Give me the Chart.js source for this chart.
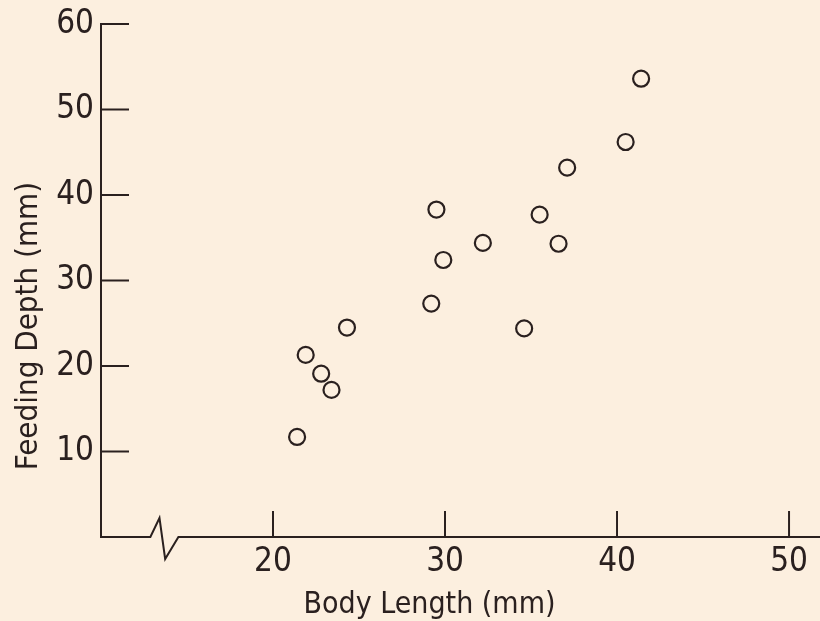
<!DOCTYPE html>
<html>
<head>
<meta charset="utf-8">
<script src="https://cdn.jsdelivr.net/npm/chart.js@4.4.1/dist/chart.umd.min.js"></script>
<style>
  html, body { margin: 0; padding: 0; background: #fcefdf; }
  #wrap { width: 820px; height: 621px; position: relative; }
</style>
</head>
<body>
<div id="wrap"><canvas id="chart"></canvas></div>
<script>
// Body length vs feeding depth.
const bodyLength = [21.4, 21.9, 22.8, 23.4, 24.3, 29.2, 29.5, 29.9, 32.2, 34.6, 35.5, 36.6, 37.1, 40.5, 41.4];
const feedingDepth = [11.7, 21.3, 19.1, 17.2, 24.5, 27.3, 38.3, 32.4, 34.4, 24.4, 37.7, 34.3, 43.2, 46.2, 53.6];
const xTicks = [20, 30, 40, 50];
const yTicks = [10, 20, 30, 40, 50, 60];
const xTitle = "Body Length (mm)";
const yTitle = "Feeding Depth (mm)";

const ink = "#2a201f";
const fontFamily = "'DejaVu Sans Condensed', 'Liberation Sans Narrow', 'DejaVu Sans', sans-serif";
const labelFont = { family: fontFamily, size: 33, lineHeight: 1 };

// tick marks point into the plot, the x axis has a break near its left end,
// and the axis titles sit off-centre like in the original drawing
const axisMarks = {
  id: "axisMarks",
  afterDraw(chart) {
    const { ctx, chartArea, scales: { x, y } } = chart;
    const y0 = y.getPixelForValue(0);
    ctx.save();
    ctx.strokeStyle = ink;
    ctx.lineWidth = 2;
    ctx.lineCap = "butt";
    yTicks.forEach(v => {
      const py = y.getPixelForValue(v);
      ctx.beginPath();
      ctx.moveTo(chartArea.left, py);
      ctx.lineTo(chartArea.left + 28, py);
      ctx.stroke();
    });
    xTicks.forEach(v => {
      const px = x.getPixelForValue(v);
      ctx.beginPath();
      ctx.moveTo(px, y0);
      ctx.lineTo(px, y0 - 26);
      ctx.stroke();
    });
    ctx.lineJoin = "miter";
    ctx.beginPath();
    ctx.moveTo(chartArea.left, y0);
    ctx.lineTo(x.getPixelForValue(12.87), y0);
    ctx.lineTo(x.getPixelForValue(13.4), y0 - 19);
    ctx.lineTo(x.getPixelForValue(13.73), y0 + 22);
    ctx.lineTo(x.getPixelForValue(14.5), y0);
    ctx.lineTo(chart.width, y0);
    ctx.stroke();

    ctx.fillStyle = ink;
    ctx.textAlign = "center";
    ctx.textBaseline = "alphabetic";
    ctx.font = "30px " + fontFamily;
    ctx.fillText(xTitle, 429.5, 613);
    ctx.font = "31px " + fontFamily;
    ctx.translate(37, 326);
    ctx.rotate(-Math.PI / 2);
    ctx.fillText(yTitle, 0, 0);
    ctx.restore();
  }
};

new Chart(document.getElementById("chart"), {
  type: "scatter",
  data: {
    datasets: [{
      data: bodyLength.map((v, i) => ({ x: v, y: feedingDepth[i] })),
      pointStyle: "circle",
      pointRadius: 8,
      pointHoverRadius: 8,
      borderWidth: 2.2,
      borderColor: ink,
      backgroundColor: "rgba(0,0,0,0)"
    }]
  },
  options: {
    responsive: true,
    maintainAspectRatio: false,
    animation: false,
    layout: { autoPadding: false, padding: { top: 24, right: 0, left: 0, bottom: 0 } },
    plugins: { legend: { display: false }, tooltip: { enabled: false } },
    scales: {
      x: {
        type: "linear",
        min: 10,
        max: 51.8,
        afterBuildTicks: s => { s.ticks = xTicks.map(v => ({ value: v })); },
        afterFit: s => { s.height = 84; },
        grid: { display: false, drawTicks: false },
        border: { display: false },
        ticks: { color: ink, padding: 9, maxRotation: 0, font: labelFont },
        title: { display: false }
      },
      y: {
        type: "linear",
        min: 0,
        max: 60,
        afterBuildTicks: s => { s.ticks = yTicks.map(v => ({ value: v })); },
        afterFit: s => { s.width = 101; },
        grid: { display: false, drawTicks: false },
        border: { display: true, color: ink, width: 2 },
        ticks: { color: ink, padding: 7, font: labelFont },
        title: { display: false }
      }
    }
  },
  plugins: [axisMarks]
});
</script>
</body>
</html>
